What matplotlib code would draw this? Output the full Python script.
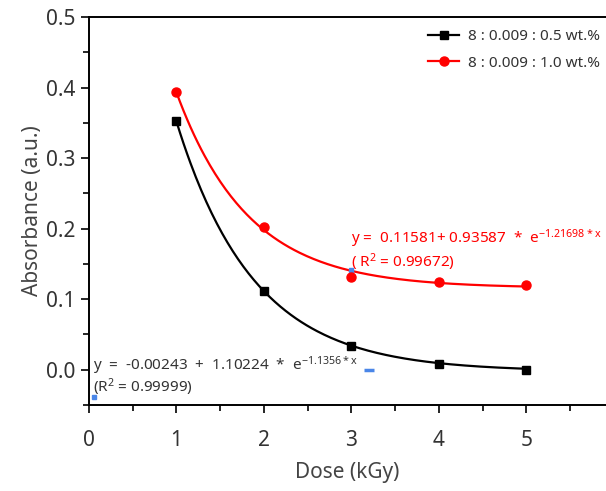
import numpy as np
import matplotlib
matplotlib.use("Agg")
import matplotlib.pyplot as plt
from matplotlib.ticker import MultipleLocator

plt.rcParams['font.family'] = ['Noto Sans', 'DejaVu Sans']
plt.rcParams['mathtext.default'] = 'regular'

dose = [1, 2, 3, 4, 5]
abs_05 = [0.352, 0.112, 0.034, 0.0085, 0.0]
abs_10 = [0.394, 0.2025, 0.132, 0.125, 0.120]
labels = ["8 : 0.009 : 0.5 wt.%", "8 : 0.009 : 1.0 wt.%"]

# fitted exponential-decay parameters printed on the chart: y = y0 + A*exp(-k x)
fit_05 = (-0.00243, 1.10224, 1.1356)
fit_10 = (0.11581, 0.93587, 1.21698)

fig = plt.figure(figsize=(6.06, 4.91), dpi=100)
ax = fig.add_axes([0.1469, 0.1752, 0.8531, 0.7902])

xf = np.linspace(1, 5, 200)
y0, A, k = fit_05
ax.plot(xf, y0 + A * np.exp(-k * xf), color='black', lw=1.6, zorder=2)
y0, A, k = fit_10
ax.plot(xf, y0 + A * np.exp(-k * xf), color='red', lw=1.6, zorder=2)

ax.plot(dose, abs_05, 's', color='black', ms=6.3, zorder=3)
ax.plot(dose, abs_10, 'o', color='red', ms=6.5, zorder=3)

# legend handles
h1, = ax.plot([], [], '-s', color='black', ms=6, lw=1.6)
h2, = ax.plot([], [], '-o', color='red', ms=6.5, lw=1.6)
leg = ax.legend([h1, h2], labels, loc='upper right', bbox_to_anchor=(1.012, 1.0),
                frameon=False, fontsize=11, handlelength=2.0, handletextpad=0.6,
                labelspacing=0.75, borderaxespad=0.4)
for t in leg.get_texts():
    t.set_color('#333333')

ax.set_xlim(0, 5.91)
ax.set_ylim(-0.05, 0.5)
ax.xaxis.set_major_locator(MultipleLocator(1))
ax.xaxis.set_minor_locator(MultipleLocator(0.5))
ax.yaxis.set_major_locator(MultipleLocator(0.1))
ax.yaxis.set_minor_locator(MultipleLocator(0.05))
ax.set_xticks([0, 1, 2, 3, 4, 5])
ax.set_yticks([0.0, 0.1, 0.2, 0.3, 0.4, 0.5])
ax.set_yticklabels(["0.0", "0.1", "0.2", "0.3", "0.4", "0.5"])
ax.tick_params(which='major', direction='out', length=6, width=1.2, labelsize=15,
               labelcolor='#333333', pad=4)
ax.tick_params(which='minor', direction='out', length=4, width=1.2)
ax.tick_params(axis='x', pad=12)

ax.spines['right'].set_visible(False)
for s in ['left', 'bottom', 'top']:
    ax.spines[s].set_linewidth(1.4)

ax.set_xlabel("Dose (kGy)", fontsize=15, color='#444444', labelpad=8)
ax.set_ylabel("Absorbance (a.u.)", fontsize=15, color='#444444', labelpad=2)

ax.text(3.0, 0.187, r"y =  0.11581+ 0.93587  *  e$^{-1.21698*x}$", color='red',
        fontsize=11, ha='left', va='center')
ax.text(3.0, 0.152, r"( R$^{2}$ = 0.99672)", color='red', fontsize=11,
        ha='left', va='center')
ax.text(0.04, 0.007, r"y  =  -0.00243  +  1.10224  *  e$^{-1.1356*x}$", color='#333333',
        fontsize=11, ha='left', va='center')
ax.text(0.04, -0.025, r"(R$^{2}$ = 0.99999)", color='#333333', fontsize=11,
        ha='left', va='center')

# small blue artefacts
blue = '#4a86e8'
ax.plot([3.14, 3.26], [-0.0005, -0.0005], color=blue, lw=2.5, solid_capstyle='butt')
ax.plot([3.0], [0.141], 's', color=blue, ms=3)
ax.plot([0.06], [-0.038], 's', color=blue, ms=3.5)

fig.savefig("out.png", dpi=100)
